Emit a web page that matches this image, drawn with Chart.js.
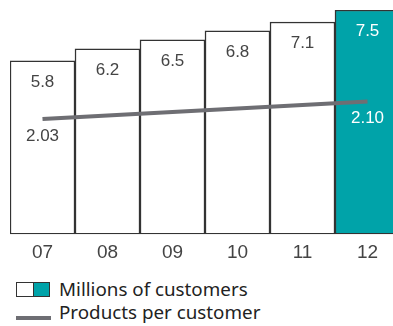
<!DOCTYPE html>
<html>
<head>
<meta charset="utf-8">
<script src="https://cdn.jsdelivr.net/npm/chart.js@4/dist/chart.umd.min.js"></script>
<style>
  body { margin: 0; width: 393px; height: 326px; overflow: hidden; background: #fff; position: relative; }
  #chartBox { position: absolute; left: 0; top: 0; }
  .key { position: absolute; left: 16px; }
  .keyText { position: absolute; left: 59px; font: 18.8px "Noto Sans"; color: #222; line-height: 1; white-space: nowrap; }
  #barKey { top: 282px; width: 34px; height: 15px; display: flex; border: 1.5px solid #333; box-sizing: border-box; }
  #barKey span { flex: 1; }
  #barKey span + span { background: #00a3a9; border-left: 1.5px solid #333; }
  #lineKey { top: 316px; width: 35px; height: 4px; background: #6e6e73; }
</style>
</head>
<body>
<div id="chartBox"><canvas id="graph" width="400" height="271"></canvas></div>
<div class="key" id="barKey"><span></span><span></span></div>
<div class="keyText" style="top:280px">Millions of customers</div>
<div class="key" id="lineKey"></div>
<div class="keyText" style="top:303px">Products per customer</div>
<script>
'use strict'

let years = ['07', '08', '09', '10', '11', '12'];
let customers = [5.8, 6.2, 6.5, 6.8, 7.1, 7.5];
// products per customer is only given for the first and last year
let products = [2.03, null, null, null, null, 2.10];

let teal = '#00a3a9';
let last = years.length - 1;

// writes the figures inside the bars and under the line ends
let valueLabels = {
    id: 'valueLabels',
    afterDatasetsDraw(chart) {
        let ctx = chart.ctx;
        ctx.save();
        ctx.textAlign = 'center';
        ctx.textBaseline = 'middle';
        ctx.font = '17px "Liberation Sans"';
        chart.getDatasetMeta(1).data.forEach((bar, i) => {
            ctx.fillStyle = i === last ? '#fff' : '#444';
            ctx.fillText(customers[i].toFixed(1), bar.x, bar.y + 21);
        });
        chart.getDatasetMeta(0).data.forEach((pt, i) => {
            if (products[i] === null) return;
            ctx.fillStyle = i === last ? '#fff' : '#444';
            ctx.fillText(products[i].toFixed(2), pt.x, pt.y + 17);
        });
        ctx.restore();
    }
};

new Chart('graph', {
    data: {
        labels: years,
        datasets: [{
            type: 'line',
            label: 'Products per customer',
            data: products,
            yAxisID: 'y2',
            borderColor: '#6e6e73',
            borderWidth: 4,
            pointRadius: 0,
            spanGaps: true,
            order: 0
        }, {
            type: 'bar',
            label: 'Millions of customers',
            data: customers,
            yAxisID: 'y',
            backgroundColor: years.map((y, i) => i === last ? teal : '#fff'),
            borderColor: '#333',
            borderWidth: 1.5,
            borderSkipped: false,
            barPercentage: 1,
            categoryPercentage: 1,
            order: 1
        }]
    },
    options: {
        responsive: false,
        animation: false,
        layout: { padding: { left: 10, right: 0, top: 10, bottom: 0 } },
        plugins: {
            legend: { display: false },
            tooltip: { enabled: false }
        },
        scales: {
            x: {
                grid: { display: false, drawTicks: false },
                border: { display: false },
                ticks: { color: '#444', padding: 7, font: { family: 'Liberation Sans', size: 19 } }
            },
            y: { display: false, min: 0, max: 7.5 },
            y2: { display: false, min: 1.57, max: 2.465 }
        }
    },
    plugins: [valueLabels]
});
</script>
</body>
</html>
